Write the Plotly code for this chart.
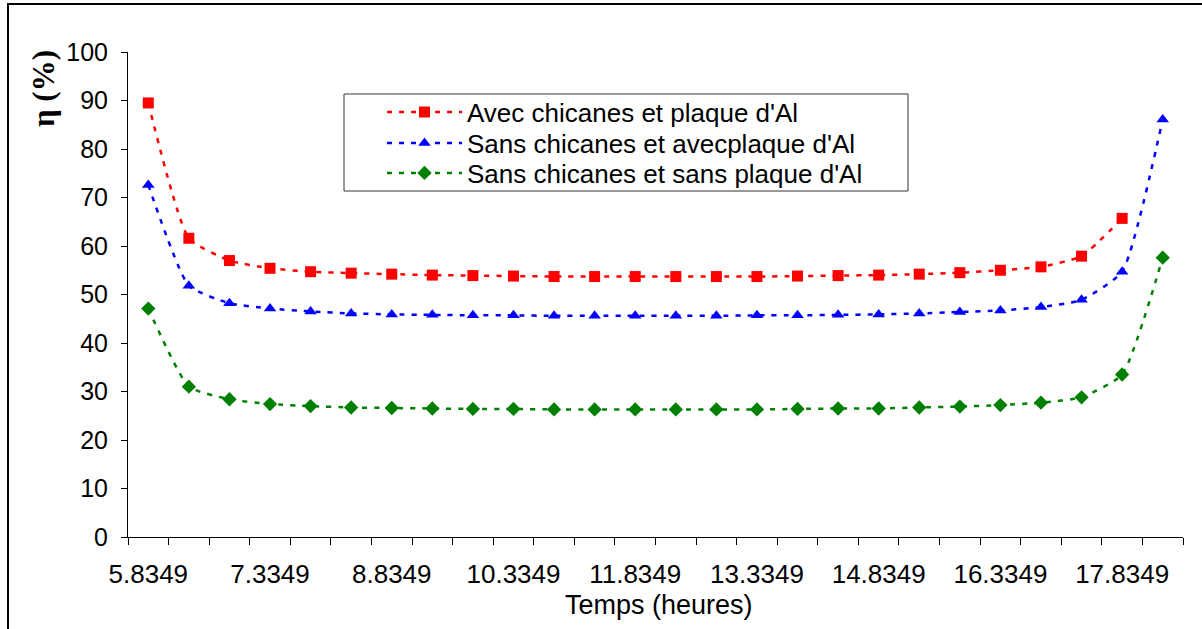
import plotly.graph_objects as go

# Hours of the day (half-hour steps)
hours = [5.8349, 6.3349, 6.8349, 7.3349, 7.8349, 8.3349, 8.8349, 9.3349, 9.8349,
         10.3349, 10.8349, 11.3349, 11.8349, 12.3349, 12.8349, 13.3349, 13.8349,
         14.3349, 14.8349, 15.3349, 15.8349, 16.3349, 16.8349, 17.3349, 17.8349,
         18.3349]

# Efficiency (%) for each configuration
eta_avec_chicanes = [89.5, 61.6, 57.0, 55.4, 54.7, 54.4, 54.2, 54.0, 53.9, 53.8,
                     53.7, 53.7, 53.7, 53.7, 53.7, 53.7, 53.8, 53.9, 54.0, 54.2,
                     54.5, 55.0, 55.7, 57.9, 65.7]
eta_sans_chicanes_avec_plaque = [72.6, 51.8, 48.2, 47.1, 46.5, 46.1, 45.9, 45.8, 45.7,
                                 45.7, 45.6, 45.6, 45.6, 45.6, 45.6, 45.7, 45.7, 45.8,
                                 45.9, 46.1, 46.4, 46.7, 47.4, 48.9, 54.7, 86.1]
eta_sans_chicanes_sans_plaque = [47.1, 31.0, 28.4, 27.4, 27.0, 26.7, 26.6, 26.5, 26.4,
                                 26.4, 26.3, 26.3, 26.3, 26.3, 26.3, 26.3, 26.4, 26.5,
                                 26.5, 26.7, 26.9, 27.2, 27.7, 28.8, 33.5, 57.6]

series_names = ["Avec chicanes et plaque d'Al",
                "Sans chicanes et avecplaque d'Al",
                "Sans chicanes et sans plaque d'Al"]

tick_hours = [5.8349, 7.3349, 8.8349, 10.3349, 11.8349, 13.3349, 14.8349, 16.3349, 17.8349]
y_ticks = [0, 10, 20, 30, 40, 50, 60, 70, 80, 90, 100]

W, H = 1202, 629
L, R, T, B = 128, 19, 52, 92
PW, PH = W - L - R, H - T - B


def px_x(p):
    return (p - L) / PW


def px_y(p):
    return (H - B - p) / PH


FONT = "Liberation Sans, Arial, sans-serif"

fig = go.Figure()

styles = [
    dict(color="#FF0000", symbol="square", size=11),
    dict(color="#0000FF", symbol="triangle-up", size=11),
    dict(color="#008000", symbol="diamond", size=11),
]
datasets = [eta_avec_chicanes, eta_sans_chicanes_avec_plaque, eta_sans_chicanes_sans_plaque]
legend_ids = ["legend", "legend2", "legend3"]
legend_rows = [112, 143, 173]

for name, vals, st, lid in zip(series_names, datasets, styles, legend_ids):
    fig.add_trace(go.Scatter(
        x=hours[:len(vals)], y=vals, name=name, mode="lines+markers",
        legend=lid,
        line=dict(color=st["color"], width=2.5, dash="5px,7px", shape="spline", smoothing=0.5),
        marker=dict(color=st["color"], symbol=st["symbol"], size=st["size"], line=dict(width=0)),
    ))

half = 0.25
fig.update_xaxes(
    range=[hours[0] - half, hours[-1] + half],
    tickmode="array", tickvals=tick_hours, ticktext=[f"{v:.4f}" for v in tick_hours],
    ticks="", showline=True, linecolor="#000000", linewidth=1,
    showgrid=False, zeroline=False,
    tickfont=dict(family=FONT, size=26, color="#000000"),
    ticklabelstandoff=14,
    minor=dict(tickmode="linear", tick0=hours[0] - half, dtick=0.5,
               ticks="outside", ticklen=7, tickwidth=1, tickcolor="#000000", showgrid=False),
)
fig.update_yaxes(
    range=[0, 100], tickmode="array", tickvals=y_ticks,
    ticks="outside", ticklen=6, tickwidth=1, tickcolor="#000000",
    showline=True, linecolor="#000000", linewidth=1,
    showgrid=False, zeroline=False,
    tickfont=dict(family=FONT, size=25, color="#000000"),
    ticklabelstandoff=8,
)

legend_common = dict(
    xanchor="left", yanchor="middle",
    bgcolor="rgba(0,0,0,0)", borderwidth=0,
    font=dict(family=FONT, size=26, color="#000000"),
    itemwidth=75,
)
legends = {}
for lid, row in zip(legend_ids, legend_rows):
    legends[lid] = dict(legend_common, x=px_x(382), y=px_y(row))

fig.update_layout(
    width=W, height=H,
    margin=dict(l=L, r=R, t=T, b=B),
    paper_bgcolor="#FFFFFF", plot_bgcolor="#FFFFFF",
    showlegend=True,
    **legends,
    shapes=[
        # chart frame
        dict(type="rect", xref="paper", yref="paper",
             x0=px_x(8), x1=px_x(1215), y0=px_y(645), y1=px_y(4),
             line=dict(color="#000000", width=2), fillcolor="rgba(0,0,0,0)", layer="below"),
        # legend frame
        dict(type="rect", xref="paper", yref="paper",
             x0=px_x(344), x1=px_x(908), y0=px_y(191), y1=px_y(94),
             line=dict(color="#333333", width=1), fillcolor="rgba(0,0,0,0)"),
    ],
    annotations=[
        dict(text="<b>η (%)</b>", xref="paper", yref="paper",
             x=px_x(44), y=px_y(89), xanchor="center", yanchor="middle",
             textangle=-90, showarrow=False,
             font=dict(family="Liberation Serif, Times New Roman, serif", size=31, color="#000000")),
        dict(text="Temps (heures)", xref="paper", yref="paper",
             x=px_x(659), y=px_y(605), xanchor="center", yanchor="middle",
             showarrow=False,
             font=dict(family=FONT, size=27, color="#000000")),
    ],
)

fig.write_html("out.html")
